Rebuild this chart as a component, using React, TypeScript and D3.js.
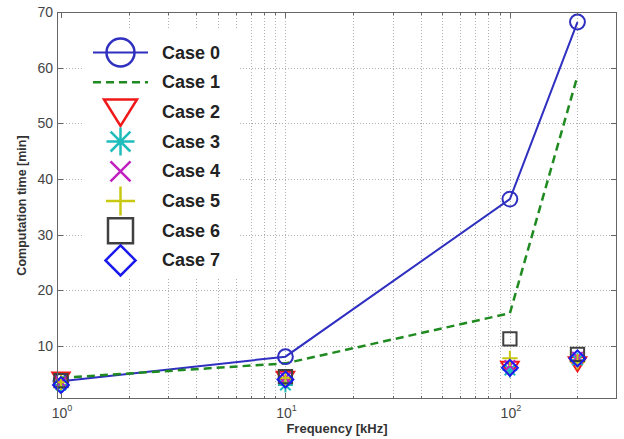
import React, { Component } from 'react';
import * as d3 from 'd3';

// frequencies [kHz] and computation times [min]
const freqs = [1, 10, 100, 200];
const case0 = [3.7, 8.1, 36.4, 68.2];
const case1 = [4.3, 6.9, 15.9, 58.5];
const case2 = [4.1, 4.2, 6.0, 6.8];
const case3 = [3.0, 3.0, 5.7, 7.5];
const case4 = [3.5, 4.3, 6.5, 8.0];
const case5 = [3.5, 4.3, 7.8, 7.2];
const case6 = [3.8, 4.5, 11.3, 8.5];
const case7 = [3.0, 4.0, 6.1, 7.8];
const caseNames = ['Case 0', 'Case 1', 'Case 2', 'Case 3', 'Case 4', 'Case 5', 'Case 6', 'Case 7'];
const yTicks = [10, 20, 30, 40, 50, 60, 70];
const xTicks = [1, 10, 100];

const allCases = [case0, case1, case2, case3, case4, case5, case6, case7];

// line / marker style of each series
const styles = [
  { color: '#2f2fc0', marker: 'circle', line: 'solid', r: 14 },
  { color: '#1f8a1f', marker: 'none', line: 'dashed', r: 0 },
  { color: '#f01818', marker: 'triangle', line: 'none', r: 16.5 },
  { color: '#1fbcbc', marker: 'asterisk', line: 'none', r: 14 },
  { color: '#c020c0', marker: 'times', line: 'none', r: 10 },
  { color: '#c8c810', marker: 'plus', line: 'none', r: 14.5 },
  { color: '#404040', marker: 'square', line: 'none', r: 12.5 },
  { color: '#1a1aee', marker: 'diamond', line: 'none', r: 15 },
];

const FONT = 'Arial, "Liberation Sans", Helvetica, sans-serif';

function markerPath(kind: string, r: number): string {
  const p = d3.path();
  const d = r * Math.SQRT1_2;
  switch (kind) {
    case 'circle':
      p.moveTo(r, 0);
      p.arc(0, 0, r, 0, 2 * Math.PI);
      break;
    case 'triangle':
      p.moveTo(-r, -r * 0.75);
      p.lineTo(r, -r * 0.75);
      p.lineTo(0, r * 0.85);
      p.closePath();
      break;
    case 'asterisk':
      p.moveTo(-r, 0); p.lineTo(r, 0);
      p.moveTo(0, -r); p.lineTo(0, r);
      p.moveTo(-d, -d); p.lineTo(d, d);
      p.moveTo(-d, d); p.lineTo(d, -d);
      break;
    case 'times':
      p.moveTo(-r, -r); p.lineTo(r, r);
      p.moveTo(-r, r); p.lineTo(r, -r);
      break;
    case 'plus':
      p.moveTo(-r, 0); p.lineTo(r, 0);
      p.moveTo(0, -r); p.lineTo(0, r);
      break;
    case 'square':
      p.rect(-r, -r, 2 * r, 2 * r);
      break;
    case 'diamond':
      p.moveTo(0, -r);
      p.lineTo(r, 0);
      p.lineTo(0, r);
      p.lineTo(-r, 0);
      p.closePath();
      break;
  }
  return p.toString();
}

class App extends Component {
  svgRef = React.createRef<SVGSVGElement>();

  componentDidMount() {
    const svg = d3.select(this.svgRef.current);
    svg.selectAll('*').remove();

    const left = 57, right = 617, top = 12, bottom = 399;
    const x = d3.scaleLog().domain([0.96, 300]).range([left, right]);
    const y = d3.scaleLinear().domain([0.5, 70]).range([bottom, top]);

    svg.append('rect').attr('width', 624).attr('height', 439).attr('fill', '#fff');

    // grid
    const minor: number[] = [];
    [1, 10, 100].forEach((dec) => {
      for (let k = 1; k <= 9; k++) {
        const v = dec * k;
        if (v > 1 && v < 300) minor.push(v);
      }
    });
    const grid = svg.append('g').attr('stroke', '#b0b0b0').attr('stroke-width', 1).attr('stroke-dasharray', '1,2');
    grid.selectAll('line.vx').data(minor).enter().append('line')
      .attr('x1', (d) => Math.round(x(d)) + 0.5).attr('x2', (d) => Math.round(x(d)) + 0.5)
      .attr('y1', top).attr('y2', bottom);
    grid.selectAll('line.hy').data(yTicks.slice(0, -1)).enter().append('line')
      .attr('x1', left).attr('x2', right)
      .attr('y1', (d) => Math.round(y(d)) + 0.5).attr('y2', (d) => Math.round(y(d)) + 0.5);

    // lines
    const lineGen = d3.line<number>().x((d, i) => x(freqs[i])).y((d) => y(d));
    allCases.forEach((vals, i) => {
      const s = styles[i];
      if (s.line === 'none') return;
      svg.append('path')
        .attr('d', lineGen(vals))
        .attr('fill', 'none')
        .attr('stroke', s.color)
        .attr('stroke-width', s.line === 'dashed' ? 2.5 : 2)
        .attr('stroke-dasharray', s.line === 'dashed' ? '8,5' : null);
    });

    // markers (plot size ~ half of the legend size)
    allCases.forEach((vals, i) => {
      const s = styles[i];
      if (s.marker === 'none') return;
      svg.append('g').selectAll('path').data(vals).enter().append('path')
        .attr('d', markerPath(s.marker, s.r * 0.53))
        .attr('transform', (d, j) => `translate(${x(freqs[j])},${y(d)})`)
        .attr('fill', 'none')
        .attr('stroke', s.color)
        .attr('stroke-width', 2);
    });

    // legend
    const lg = svg.append('g');
    lg.append('rect').attr('x', 83).attr('y', 30).attr('width', 157).attr('height', 248).attr('fill', '#fff');
    caseNames.forEach((name, i) => {
      const s = styles[i];
      const cy = 52.5 + i * 29.7;
      if (s.line !== 'none') {
        lg.append('line')
          .attr('x1', 93).attr('x2', 148).attr('y1', cy).attr('y2', cy)
          .attr('stroke', s.color)
          .attr('stroke-width', s.line === 'dashed' ? 2.5 : 2)
          .attr('stroke-dasharray', s.line === 'dashed' ? '8,5' : null);
      }
      if (s.marker !== 'none') {
        lg.append('path')
          .attr('d', markerPath(s.marker, s.r))
          .attr('transform', `translate(120.5,${cy})`)
          .attr('fill', 'none')
          .attr('stroke', s.color)
          .attr('stroke-width', 2.5);
      }
      lg.append('text')
        .attr('x', 162).attr('y', cy)
        .attr('dominant-baseline', 'central')
        .style('font-family', FONT).style('font-weight', 'bold').style('font-size', '18px')
        .attr('fill', '#222')
        .text(name);
    });

    // axes box and ticks
    const ax = svg.append('g').attr('stroke', '#666').attr('stroke-width', 1).attr('fill', 'none');
    ax.append('rect').attr('x', left + 0.5).attr('y', top + 0.5).attr('width', right - left - 1).attr('height', bottom - top - 1);
    const allX = [1, 10, 100].concat(minor.filter((d) => xTicks.indexOf(d) < 0));
    allX.forEach((v) => {
      const len = xTicks.indexOf(v) >= 0 ? 6 : 3;
      const px = Math.round(x(v)) + 0.5;
      ax.append('line').attr('x1', px).attr('x2', px).attr('y1', bottom).attr('y2', bottom - len);
      ax.append('line').attr('x1', px).attr('x2', px).attr('y1', top).attr('y2', top + len);
    });
    yTicks.forEach((v) => {
      const py = Math.round(y(v)) + 0.5;
      ax.append('line').attr('x1', left).attr('x2', left + 6).attr('y1', py).attr('y2', py);
      ax.append('line').attr('x1', right).attr('x2', right - 6).attr('y1', py).attr('y2', py);
    });

    // tick labels
    svg.append('g').selectAll('text').data(yTicks).enter().append('text')
      .attr('x', 53).attr('y', (d) => y(d))
      .attr('text-anchor', 'end').attr('dominant-baseline', 'central')
      .style('font-family', FONT).style('font-size', '14px')
      .attr('fill', '#444')
      .text((d) => d);

    const xl = svg.append('g').selectAll('text').data(xTicks).enter().append('text')
      .attr('x', (d) => x(d) + 1).attr('y', 418)
      .attr('text-anchor', 'middle')
      .style('font-family', FONT).style('font-size', '14px')
      .attr('fill', '#444');
    xl.append('tspan').text('10');
    xl.append('tspan').attr('dy', -7).style('font-size', '9px').text((d) => Math.round(Math.log10(d)));

    // axis titles
    svg.append('text')
      .attr('x', (left + right) / 2).attr('y', 433)
      .attr('text-anchor', 'middle')
      .style('font-family', FONT).style('font-weight', 'bold').style('font-size', '13px')
      .attr('fill', '#333')
      .text('Frequency [kHz]');
    svg.append('text')
      .attr('transform', `translate(26,${(top + bottom) / 2}) rotate(-90)`)
      .attr('text-anchor', 'middle')
      .style('font-family', FONT).style('font-weight', 'bold').style('font-size', '12.5px')
      .attr('fill', '#333')
      .text('Computation time [min]');
  }

  render() {
    return (
      <svg ref={this.svgRef} width={624} height={439}
        style={{ position: 'absolute', left: 0, top: 0, display: 'block' }} />
    );
  }
}

export default App;
